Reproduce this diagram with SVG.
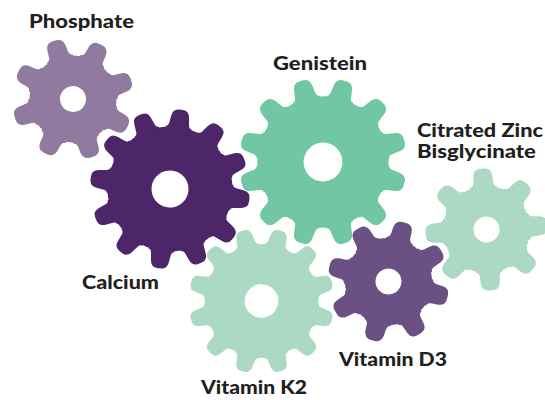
<svg xmlns="http://www.w3.org/2000/svg" width="545" height="400" viewBox="0 0 545 400">
<style>
text{font-family:"Lato","Open Sans","Liberation Sans",sans-serif;font-weight:900;font-size:19px;fill:#231f20}
.hole{fill:#fff}
</style>
<defs>
<path id="t8" d="M-13.5,-40 L-13.5,-42.5 Q-10.5,-43 -10,-46.5 L-9.5,-54 Q-8.5,-61 -2,-61 L2,-61 Q8.5,-61 9.5,-54 L10,-46.5 Q10.5,-43 13.5,-42.5 L13.5,-40Z"/>
<path id="t12" d="M-13,-58 L-13,-62 Q-10.5,-62 -10,-65.5 L-9,-73 Q-8,-80 -2,-80 L2,-80 Q8,-80 9,-73 L10,-65.5 Q10.5,-62 13,-62 L13,-58Z"/>
<g id="gear8">
<circle r="43.5"/>
<use href="#t8"/><use href="#t8" transform="rotate(45)"/><use href="#t8" transform="rotate(90)"/><use href="#t8" transform="rotate(135)"/><use href="#t8" transform="rotate(180)"/><use href="#t8" transform="rotate(225)"/><use href="#t8" transform="rotate(270)"/><use href="#t8" transform="rotate(315)"/>
<circle class="hole" r="13"/>
</g>
<g id="gear12">
<circle r="62.5"/>
<use href="#t12"/><use href="#t12" transform="rotate(30)"/><use href="#t12" transform="rotate(60)"/><use href="#t12" transform="rotate(90)"/><use href="#t12" transform="rotate(120)"/><use href="#t12" transform="rotate(150)"/><use href="#t12" transform="rotate(180)"/><use href="#t12" transform="rotate(210)"/><use href="#t12" transform="rotate(240)"/><use href="#t12" transform="rotate(270)"/><use href="#t12" transform="rotate(300)"/><use href="#t12" transform="rotate(330)"/>
<circle class="hole" r="18.5"/>
</g>
</defs>
<g id="connectors"/>
<g id="phosphate"><use href="#gear8" fill="#917aa0" transform="translate(73,99) rotate(-18)"/><text x="29" y="28" textLength="105" lengthAdjust="spacingAndGlyphs">Phosphate</text></g>
<g id="calcium"><use href="#gear12" fill="#4c2668" transform="translate(170,189) rotate(8)"/><text x="82" y="289" textLength="77" lengthAdjust="spacingAndGlyphs">Calcium</text></g>
<g id="genistein"><use href="#gear12" fill="#71c6a3" transform="translate(323,162) rotate(15) scale(1.05)"/><text x="273" y="69.5" textLength="94" lengthAdjust="spacingAndGlyphs">Genistein</text></g>
<g id="vitamin-k2"><use href="#gear12" fill="#abd9c4" transform="translate(261.5,301) rotate(15) scale(.91)"/><text x="201" y="394" textLength="106" lengthAdjust="spacingAndGlyphs">Vitamin K2</text></g>
<g id="vitamin-d3"><use href="#gear8" fill="#6b5083" transform="translate(388.5,281.5) rotate(15)"/><text x="339" y="366" textLength="108" lengthAdjust="spacingAndGlyphs">Vitamin D3</text></g>
<g id="citrated-zinc"><use href="#gear8" fill="#abd9c4" transform="translate(486.5,229.5) rotate(-4)"/><text x="417" y="137" textLength="126" lengthAdjust="spacingAndGlyphs">Citrated Zinc</text><text x="417" y="158" textLength="119" lengthAdjust="spacingAndGlyphs">Bisglycinate</text></g>
</svg>
